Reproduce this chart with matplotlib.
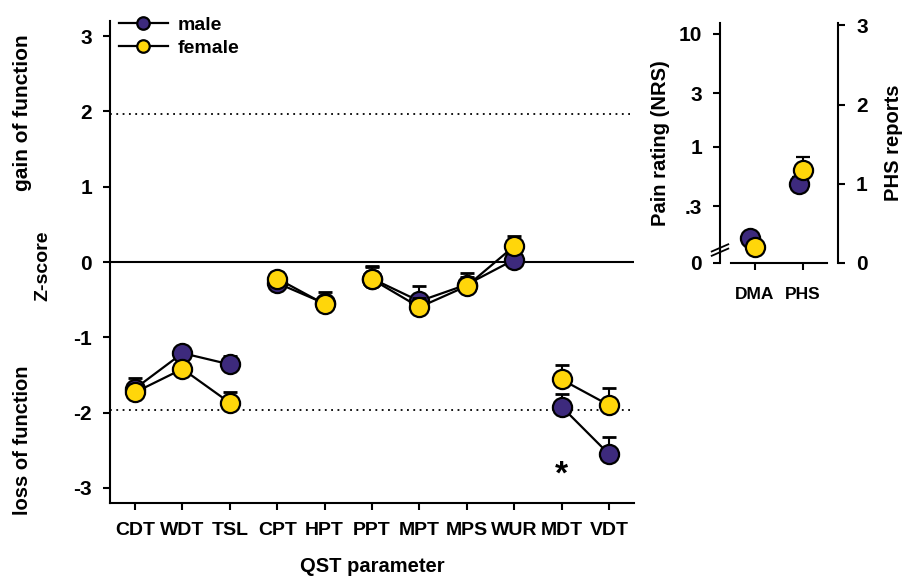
import matplotlib
matplotlib.use("Agg")
import matplotlib.pyplot as plt
import numpy as np
from matplotlib.lines import Line2D

plt.rcParams['font.family'] = ['Liberation Sans', 'DejaVu Sans']
plt.rcParams['font.weight'] = 'bold'

params = ["CDT", "WDT", "TSL", "CPT", "HPT", "PPT", "MPT", "MPS", "WUR", "MDT", "VDT"]
groups = [[0, 1, 2], [3, 4], [5, 6, 7, 8], [9, 10]]
male = [-1.68, -1.21, -1.36, -0.28, -0.55, -0.22, -0.52, -0.30, 0.03, -1.92, -2.55]
male_err = [0.14, 0.08, 0.11, 0.10, 0.15, 0.17, 0.20, 0.15, 0.10, 0.17, 0.23]
female = [-1.73, -1.42, -1.87, -0.22, -0.56, -0.23, -0.60, -0.32, 0.21, -1.56, -1.90]
female_err = [0.10, 0.08, 0.14, 0.09, 0.10, 0.17, 0.12, 0.12, 0.14, 0.19, 0.23]

dma_male, dma_female = 0.156, 0.13
dma_male_err, dma_female_err = 0.01, 0.01
phs_male, phs_female = 1.00, 1.17
phs_male_err, phs_female_err = 0.08, 0.17

c_male = "#3d2a7d"
c_female = "#ffd60a"

fig = plt.figure(figsize=(9.05, 5.78), dpi=100)
ax = fig.add_axes([110/905, 1-503/578, (634-110)/905, (503-21)/578])

x = np.arange(len(params))
ax.axhline(0, color="black", lw=1.5, zorder=1)
ax.axhline(1.96, color="black", lw=1.3, ls=(0, (1, 2.5)), zorder=1)
ax.axhline(-1.96, color="black", lw=1.3, ls=(0, (1, 2.5)), zorder=1)

ms = 13.8
for vals, errs, col, z in [(male, male_err, c_male, 3), (female, female_err, c_female, 5)]:
    vals = np.array(vals); errs = np.array(errs)
    ax.errorbar(x, vals, yerr=[np.zeros_like(errs), errs], fmt="none", ecolor="black",
                elinewidth=1.5, capsize=5, capthick=2, zorder=z)
    for g in groups:
        ax.plot(x[g], vals[g], color="black", lw=1.6, zorder=z+0.5)
    ax.plot(x, vals, "o", ms=ms, mfc=col, mec="black", mew=1.6, zorder=z+1, ls="none")

ax.text(9, -2.83, "*", ha="center", va="center", fontsize=24, fontweight="bold")

ax.set_xlim(-0.53, 10.53)
ax.set_ylim(-3.2, 3.2)
ax.set_xticks(x)
ax.set_xticklabels(params, fontsize=14, fontweight="bold")
ax.set_yticks([-3, -2, -1, 0, 1, 2, 3])
ax.set_yticklabels(["-3", "-2", "-1", "0", "1", "2", "3"], fontsize=15, fontweight="bold")
for s in ["top", "right"]:
    ax.spines[s].set_visible(False)
for s in ["left", "bottom"]:
    ax.spines[s].set_linewidth(1.5)
ax.tick_params(axis="both", width=1.5, length=5)
ax.tick_params(axis="y", pad=8)
ax.tick_params(axis="x", pad=9)
ax.set_xlabel("QST parameter", fontsize=14.5, fontweight="bold", labelpad=13)

handles = [Line2D([], [], color="black", lw=1.6, marker="o", ms=9, mfc=c_male, mec="black", mew=1.6),
           Line2D([], [], color="black", lw=1.6, marker="o", ms=9, mfc=c_female, mec="black", mew=1.6)]
fig.legend(handles, ["male", "female"], loc="upper left", bbox_to_anchor=(119/905, 1-16/578),
           frameon=False, fontsize=14, handlelength=2.5, handletextpad=0.5, labelspacing=0.3,
           borderaxespad=0, borderpad=0)

fig.text(43/905, 1-266/578, "Z-score", rotation=90, ha="center", va="center", fontsize=14, fontweight="bold")
fig.text(22/905, 1-113/578, "gain of function", rotation=90, ha="center", va="center", fontsize=15, fontweight="bold")
fig.text(22/905, 1-440/578, "loss of function", rotation=90, ha="center", va="center", fontsize=14.5, fontweight="bold")

# Right panel
ax2 = fig.add_axes([720/905, 1-263/578, (838-720)/905, (263-23)/578])
ax2.set_yscale("log")
ax2.set_ylim(0.094, 12.5)
ax2.set_xlim(-0.73, 1.73)
ax2.errorbar([-0.1], [dma_male], yerr=[[0], [dma_male_err]], fmt="o", ms=ms, mfc=c_male, mec="black",
             mew=1.6, ecolor="black", capsize=5, capthick=2, zorder=3)
ax2.errorbar([0], [dma_female], yerr=[[0], [dma_female_err]], fmt="o", ms=ms, mfc=c_female, mec="black",
             mew=1.6, ecolor="black", capsize=5, capthick=2, zorder=4)
ax2.set_yticks([0.094, 0.3, 1, 3, 10])
ax2.set_yticklabels(["0", ".3", "1", "3", "10"], fontsize=15, fontweight="bold")
ax2.yaxis.set_minor_locator(matplotlib.ticker.NullLocator())
ax2.set_xticks([0, 1])
ax2.set_xticklabels(["DMA", "PHS"], fontsize=12.5, fontweight="bold")
ax2.spines["top"].set_visible(False)
ax2.spines["right"].set_visible(False)
ax2.spines["left"].set_linewidth(1.5)
ax2.spines["bottom"].set_linewidth(1.5)
ax2.spines["bottom"].set_bounds(-0.5, 1.5)
ax2.tick_params(axis="both", width=1.5, length=5)
ax2.tick_params(axis="y", pad=8)
ax2.tick_params(axis="x", pad=12)
ax2.set_ylabel("Pain rating (NRS)", fontsize=14.5, fontweight="bold", labelpad=6)
ax2.set_facecolor("none")
# axis break marks
for dy in (0.0, 0.018):
    ax2.plot([-0.07, 0.07], [0.03 + dy, 0.06 + dy], transform=ax2.transAxes, color="black",
             lw=1.3, clip_on=False)

ax3 = ax2.twinx()
ax3.set_ylim(0, 3.03)
ax3.errorbar([0.92], [phs_male], yerr=[[0], [phs_male_err]], fmt="o", ms=ms, mfc=c_male, mec="black",
             mew=1.6, ecolor="black", capsize=5, capthick=2, zorder=3)
ax3.errorbar([1.0], [phs_female], yerr=[[0], [phs_female_err]], fmt="o", ms=ms, mfc=c_female, mec="black",
             mew=1.6, ecolor="black", capsize=5, capthick=2, zorder=4)
ax3.set_yticks([0, 1, 2, 3])
ax3.set_yticklabels(["0", "1", "2", "3"], fontsize=15, fontweight="bold")
for s in ["top", "left", "bottom"]:
    ax3.spines[s].set_visible(False)
ax3.spines["right"].set_linewidth(1.5)
ax3.tick_params(axis="y", width=1.5, length=5, pad=8)
ax3.set_ylabel("PHS reports", fontsize=14.5, fontweight="bold", labelpad=12)

fig.savefig("out.png", dpi=100)
